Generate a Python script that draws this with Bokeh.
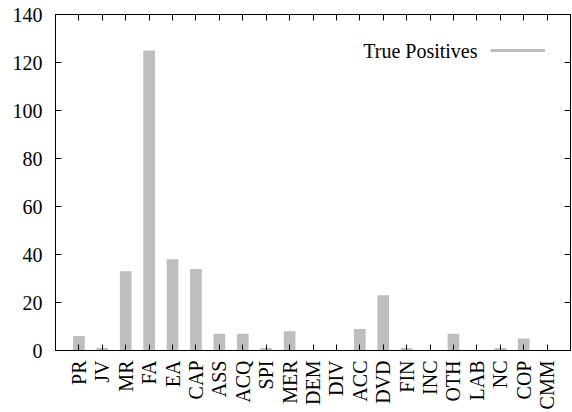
from math import pi
from bokeh.plotting import figure
from bokeh.models import Range1d, FixedTicker, LinearAxis, Legend, LegendItem, Label
from bokeh.embed import file_html
from bokeh.resources import INLINE

categories = ["PR", "JV", "MR", "FA", "EA", "CAP", "ASS", "ACQ", "SPI", "MER", "DEM",
              "DIV", "ACC", "DVD", "FIN", "INC", "OTH", "LAB", "NC", "COP", "CMM"]
true_positives = [6, 1, 33, 125, 38, 34, 7, 7, 1, 8, 0, 0, 9, 23, 1, 0, 7, 0, 1, 5, 0]
y_ticks = [0, 20, 40, 60, 80, 100, 120, 140]
series_name = "True Positives"

positions = list(range(len(categories)))
x_start, x_end = -1, len(categories)
y_start, y_end = 0, 140
FONT = "Liberation Serif"
GREY = "#bebebe"
TICK = 6

p = figure(width=572, height=412, output_backend="svg", toolbar_location=None,
           x_range=Range1d(x_start, x_end), y_range=Range1d(y_start, y_end),
           x_axis_type=None, y_axis_type=None,
           min_border_left=55, min_border_right=2, min_border_top=14, min_border_bottom=62)
p.grid.visible = False
p.outline_line_color = "black"
p.outline_line_width = 1
p.background_fill_color = "white"
p.border_fill_color = "white"

p.vbar(x=positions, top=true_positives, width=0.5, fill_color=GREY, line_color=None)


def style_axis(ax):
    ax.major_tick_in = TICK
    ax.major_tick_out = 0
    ax.minor_tick_in = 0
    ax.minor_tick_out = 0
    ax.axis_line_color = "black"
    ax.major_tick_line_color = "black"
    ax.major_tick_line_width = 1
    ax.major_label_text_font = FONT
    ax.major_label_text_color = "black"


xb = LinearAxis(ticker=FixedTicker(ticks=positions, minor_ticks=[]),
                major_label_overrides={i: c for i, c in zip(positions, categories)})
style_axis(xb)
xb.major_label_orientation = pi / 2
xb.major_label_text_font_size = "20px"
xb.major_label_standoff = 10
p.add_layout(xb, "below")

xt = LinearAxis(ticker=FixedTicker(ticks=positions, minor_ticks=[]),
                major_label_overrides={i: "" for i in positions})
style_axis(xt)
xt.major_label_standoff = 0
xt.major_label_text_font_size = "1px"
p.add_layout(xt, "above")

yl = LinearAxis(ticker=FixedTicker(ticks=y_ticks, minor_ticks=[]))
style_axis(yl)
yl.major_label_text_font_size = "20px"
yl.major_label_standoff = 13
p.add_layout(yl, "left")

yr = LinearAxis(ticker=FixedTicker(ticks=y_ticks, minor_ticks=[]),
                major_label_overrides={v: "" for v in y_ticks})
style_axis(yr)
yr.major_label_standoff = 0
yr.major_label_text_font_size = "1px"
p.add_layout(yr, "right")

key_line = p.line(x=positions, y=true_positives, line_color=GREY, line_width=3, visible=False)
legend = Legend(items=[LegendItem(label=" ", renderers=[key_line])],
                location=(435, 290), glyph_width=55, glyph_height=20,
                label_standoff=0, label_width=0, padding=0, margin=0, spacing=0,
                border_line_alpha=0, background_fill_alpha=0, inactive_fill_alpha=0)
p.add_layout(legend, "center")

p.add_layout(Label(x=422, y=300, x_units="screen", y_units="screen", text=series_name,
                   text_align="right", text_baseline="middle", text_font=FONT,
                   text_font_size="20px", text_color="black"))

open("out.html", "w").write(file_html(p, INLINE))
